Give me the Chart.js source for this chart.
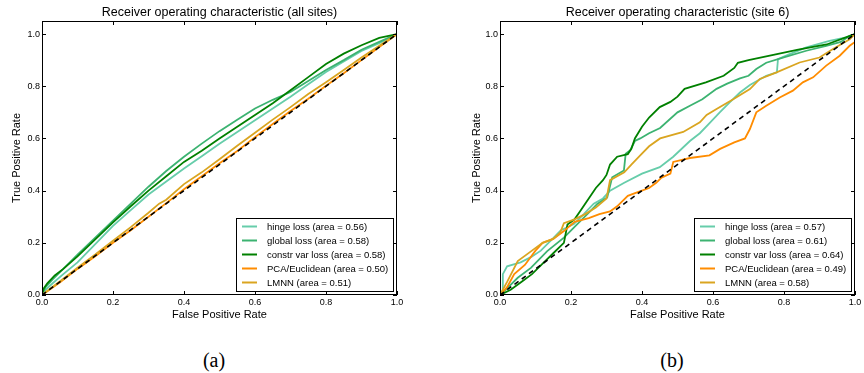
<!DOCTYPE html>
<html>
<head>
<meta charset="utf-8">
<script src="https://cdn.jsdelivr.net/npm/chart.js@4.4.1/dist/chart.umd.min.js"></script>
<style>
  body { margin: 0; background: #fff; width: 864px; height: 373px; position: relative; overflow: hidden; }
  .pane { position: absolute; top: 0; }
  .cap { position: absolute; top: 348px; width: 60px; text-align: center; font: 20px "Liberation Serif", serif; line-height: 24px; color: #000; }
</style>
</head>
<body>
<div class="pane" style="left:0"><canvas id="c1" width="412" height="330"></canvas></div>
<div class="pane" style="left:458px"><canvas id="c2" width="412" height="330"></canvas></div>
<div class="cap" style="left:184px">(a)</div>
<div class="cap" style="left:642px">(b)</div>
<script>
// ROC curves, all sites (a) and site 6 (b).
const TICKS = [0, 0.2, 0.4, 0.6, 0.8, 1.0];
const NAMES = ['hinge loss', 'global loss', 'constr var loss', 'PCA/Euclidean', 'LMNN'];
const AUC_ALL = [0.56, 0.58, 0.58, 0.50, 0.51];
const AUC_SITE6 = [0.57, 0.61, 0.64, 0.49, 0.58];
const CHANCE = [[0, 0], [1, 1]];

// (fpr, tpr) pairs
const allHinge = [[0,0],[0.01,0.02],[0.03,0.045],[0.06,0.08],[0.1,0.125],[0.15,0.195],[0.2,0.265],[0.25,0.325],[0.3,0.385],[0.35,0.435],[0.4,0.485],[0.45,0.532],[0.5,0.58],[0.55,0.625],[0.6,0.67],[0.65,0.715],[0.7,0.76],[0.75,0.808],[0.8,0.855],[0.85,0.895],[0.9,0.935],[0.95,0.965],[1,1]];
const allGlobal = [[0,0],[0.01,0.03],[0.03,0.06],[0.06,0.1],[0.1,0.155],[0.15,0.22],[0.2,0.285],[0.25,0.35],[0.3,0.415],[0.35,0.475],[0.4,0.53],[0.45,0.58],[0.5,0.628],[0.55,0.672],[0.6,0.715],[0.65,0.748],[0.7,0.778],[0.75,0.82],[0.8,0.862],[0.85,0.9],[0.9,0.94],[0.95,0.97],[1,1]];
const allConstr = [[0,0],[0.005,0.025],[0.015,0.045],[0.036,0.075],[0.06,0.1],[0.1,0.148],[0.15,0.213],[0.2,0.278],[0.25,0.34],[0.3,0.4],[0.35,0.455],[0.4,0.51],[0.45,0.553],[0.5,0.6],[0.55,0.645],[0.6,0.69],[0.65,0.735],[0.7,0.785],[0.75,0.835],[0.8,0.885],[0.85,0.925],[0.9,0.957],[0.95,0.985],[1,1]];
const allPCA = [[0,0],[0.05,0.048],[0.1,0.1],[0.15,0.148],[0.2,0.2],[0.25,0.248],[0.3,0.3],[0.35,0.352],[0.4,0.405],[0.45,0.455],[0.5,0.505],[0.55,0.552],[0.6,0.605],[0.65,0.655],[0.7,0.705],[0.75,0.752],[0.8,0.802],[0.85,0.85],[0.9,0.9],[0.95,0.95],[1,1]];
const allLMNN = [[0,0],[0.05,0.052],[0.1,0.105],[0.15,0.155],[0.2,0.208],[0.25,0.26],[0.3,0.315],[0.33,0.35],[0.35,0.365],[0.4,0.425],[0.45,0.47],[0.5,0.52],[0.55,0.572],[0.6,0.622],[0.65,0.672],[0.7,0.72],[0.75,0.77],[0.8,0.815],[0.85,0.862],[0.9,0.91],[0.95,0.955],[1,1]];

const s6Hinge = [[0,0],[0.007,0.01],[0.008,0.08],[0.02,0.11],[0.058,0.125],[0.087,0.145],[0.115,0.17],[0.143,0.208],[0.171,0.247],[0.208,0.272],[0.236,0.31],[0.264,0.35],[0.29,0.37],[0.31,0.4],[0.35,0.43],[0.4,0.465],[0.45,0.49],[0.488,0.53],[0.535,0.59],[0.563,0.62],[0.591,0.66],[0.619,0.7],[0.647,0.738],[0.676,0.776],[0.704,0.805],[0.75,0.84],[0.78,0.853],[0.783,0.904],[0.816,0.923],[0.863,0.949],[0.928,0.974],[0.975,0.987],[1,1]];
const s6Global = [[0,0],[0.012,0.015],[0.05,0.066],[0.087,0.104],[0.133,0.168],[0.18,0.22],[0.208,0.258],[0.246,0.31],[0.274,0.349],[0.302,0.374],[0.316,0.451],[0.349,0.477],[0.354,0.541],[0.367,0.555],[0.38,0.59],[0.395,0.6],[0.42,0.62],[0.451,0.64],[0.5,0.7],[0.535,0.725],[0.57,0.75],[0.61,0.79],[0.64,0.81],[0.676,0.83],[0.7,0.84],[0.722,0.866],[0.75,0.89],[0.797,0.91],[0.863,0.936],[0.919,0.955],[0.96,0.97],[0.985,0.993],[1,1]];
const s6Constr = [[0,0],[0.03,0.02],[0.06,0.05],[0.09,0.08],[0.12,0.12],[0.15,0.16],[0.18,0.2],[0.19,0.27],[0.21,0.29],[0.23,0.33],[0.25,0.37],[0.27,0.41],[0.29,0.44],[0.3,0.46],[0.31,0.5],[0.33,0.53],[0.36,0.54],[0.37,0.56],[0.38,0.6],[0.4,0.645],[0.42,0.68],[0.45,0.72],[0.48,0.74],[0.5,0.76],[0.52,0.79],[0.58,0.815],[0.63,0.84],[0.66,0.87],[0.67,0.89],[0.7,0.9],[0.77,0.92],[0.84,0.94],[0.92,0.96],[0.98,0.99],[1,1]];
const s6PCA = [[0,0],[0.02,0.03],[0.04,0.08],[0.07,0.115],[0.1,0.17],[0.12,0.2],[0.15,0.215],[0.18,0.245],[0.21,0.28],[0.25,0.295],[0.28,0.31],[0.31,0.32],[0.33,0.34],[0.36,0.38],[0.39,0.395],[0.42,0.41],[0.44,0.43],[0.455,0.45],[0.48,0.465],[0.488,0.51],[0.535,0.525],[0.59,0.535],[0.62,0.56],[0.66,0.585],[0.69,0.6],[0.704,0.636],[0.722,0.7],[0.75,0.725],[0.788,0.757],[0.825,0.783],[0.853,0.815],[0.882,0.834],[0.919,0.879],[0.957,0.917],[0.985,0.955],[1,0.97],[1,1]];
const s6LMNN = [[0,0],[0.02,0.05],[0.05,0.13],[0.09,0.17],[0.12,0.2],[0.15,0.215],[0.17,0.24],[0.18,0.275],[0.21,0.29],[0.24,0.31],[0.27,0.335],[0.3,0.37],[0.31,0.44],[0.35,0.47],[0.37,0.5],[0.395,0.535],[0.42,0.57],[0.451,0.6],[0.516,0.625],[0.563,0.662],[0.582,0.69],[0.61,0.713],[0.657,0.75],[0.704,0.789],[0.732,0.828],[0.779,0.853],[0.844,0.891],[0.9,0.91],[0.938,0.943],[0.985,0.98],[1,1]];

const COLORS = ['#66CDAA', '#3CB371', '#008000', '#FF8C00', '#DAA520'];
const FONT = '"Liberation Sans", Arial, sans-serif';
const pts = (a) => a.map(([x, y]) => ({ x, y }));

// frame with inward ticks on all four sides + legend box in the lower right
const frame = {
  id: 'frame',
  afterDraw(chart) {
    const { ctx, chartArea: a, scales: { x, y } } = chart;
    ctx.save();
    ctx.strokeStyle = '#000'; ctx.lineWidth = 1;
    ctx.strokeRect(Math.round(a.left) + 0.5, Math.round(a.top) + 0.5, Math.round(a.width) - 1, Math.round(a.height) - 1);
    ctx.beginPath();
    TICKS.forEach((v) => {
      const px = Math.round(x.getPixelForValue(v)) + 0.5, py = Math.round(y.getPixelForValue(v)) + 0.5;
      ctx.moveTo(px, a.bottom); ctx.lineTo(px, a.bottom - 4);
      ctx.moveTo(px, a.top); ctx.lineTo(px, a.top + 4);
      ctx.moveTo(a.left, py); ctx.lineTo(a.left + 4, py);
      ctx.moveTo(a.right, py); ctx.lineTo(a.right - 4, py);
    });
    ctx.stroke();

    const items = chart.data.datasets.filter((d) => d.label);
    ctx.font = '9.5px ' + FONT;
    const tw = Math.max(...items.map((d) => ctx.measureText(d.label).width));
    const w = Math.round(36 + tw), h = 73;
    const r = Math.round(a.right) - 4, b = Math.round(a.bottom) - 4;
    const l = r - w, t = b - h;
    ctx.fillStyle = '#fff'; ctx.fillRect(l, t, w, h);
    ctx.strokeRect(l + 0.5, t + 0.5, w, h);
    ctx.textBaseline = 'middle';
    items.forEach((d, i) => {
      const cy = t + 8.5 + i * 14;
      ctx.strokeStyle = d.borderColor; ctx.lineWidth = 2;
      ctx.beginPath(); ctx.moveTo(l + 6, cy); ctx.lineTo(l + 21, cy); ctx.stroke();
      ctx.fillStyle = '#000'; ctx.fillText(d.label, l + 31, cy + 0.5);
    });
    ctx.restore();
  }
};

function axis(min, max, text, isY, pad) {
  return {
    type: 'linear', min, max,
    grid: { display: false, drawTicks: false }, border: { display: false },
    ticks: { color: '#000', font: { family: FONT, size: 9 }, padding: 2, autoSkip: false, maxRotation: 0, callback: (v) => v.toFixed(1) },
    afterBuildTicks: (s) => { s.ticks = TICKS.map((v) => ({ value: v })); },
    afterFit: (s) => {
      if (isY) { s.width = 42; s.paddingTop = 0; s.paddingBottom = 0; }
      else { s.height = 28; s.paddingLeft = 0; s.paddingRight = 0; }
    },
    title: { display: true, text, color: '#000', font: { family: FONT, size: 11 }, padding: isY ? { top: pad, bottom: 0 } : { top: 0, bottom: 1 } }
  };
}

function rocChart(id, title, series, aucs, yPad) {
  const datasets = series.map((s, i) => ({
    label: `${NAMES[i]} (area = ${aucs[i].toFixed(2)})`, data: pts(s),
    borderColor: COLORS[i], borderWidth: 1.8, pointRadius: 0, tension: 0, fill: false, order: 5 - i
  }));
  datasets.push({ label: '', data: pts(CHANCE), borderColor: '#000', borderWidth: 1.6, borderDash: [5, 4], pointRadius: 0, fill: false, order: -1 });
  return new Chart(document.getElementById(id), {
    type: 'line',
    data: { datasets },
    options: {
      responsive: false, animation: false, devicePixelRatio: 1,
      layout: { padding: { left: 0, right: 15, top: 0, bottom: 7 } },
      plugins: {
        legend: { display: false }, tooltip: { enabled: false },
        title: { display: true, fullSize: false, text: title, color: '#000', font: { family: FONT, size: 12.5, weight: 'normal' }, padding: { top: 5, bottom: 1 } }
      },
      scales: { x: axis(0, 1, 'False Positive Rate', false), y: axis(0, 1.05, 'True Positive Rate', true, yPad) }
    },
    plugins: [frame]
  });
}

rocChart('c1', 'Receiver operating characteristic (all sites)', [allHinge, allGlobal, allConstr, allPCA, allLMNN], AUC_ALL, 10);
rocChart('c2', 'Receiver operating characteristic (site 6)', [s6Hinge, s6Global, s6Constr, s6PCA, s6LMNN], AUC_SITE6, 12);
</script>
</body>
</html>
